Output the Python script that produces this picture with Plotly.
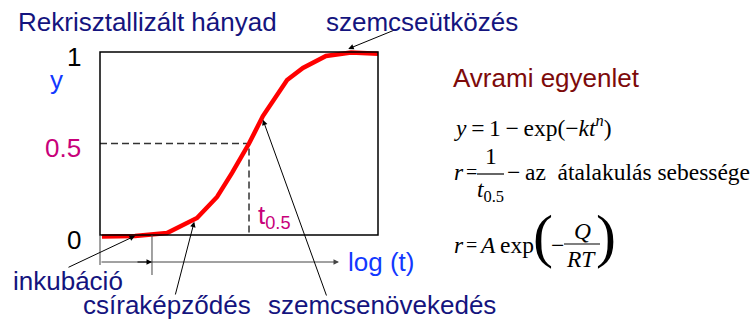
import plotly.graph_objects as go

# Recrystallized fraction y as a function of log(t) (arbitrary log-time units)
log_t = [0.07, 1.26, 2.41, 3.49, 4.21, 4.75, 5.36, 5.86, 6.73, 7.30, 8.13, 9.03, 10.0]
y_frac = [-0.008, -0.005, 0.011, 0.093, 0.208, 0.339, 0.50, 0.65, 0.847, 0.913, 0.978, 0.997, 0.99]

y_tick_vals = [0, 0.5, 1]
y_tick_text = ["0", "0.5", "1"]
y_tick_colors = ["black", "#c8007a", "black"]

t_half_idx = 6          # point where y = 0.5
growth_idx = 7          # point labelled as grain growth
impinge_idx = 11        # point labelled as grain impingement
incubation_end = 1.87   # end of the incubation period on the log(t) axis
x_max = 10.0

W, H = 756, 322
BOX_L, BOX_R, BOX_B, BOX_T = 100, 378, 235, 52   # frame of the diagram in pixels

sx = (BOX_R - BOX_L) / x_max
sy = (BOX_B - BOX_T) / 1.0
x_range = [-BOX_L / sx, (W - BOX_L) / sx]
y_range = [-(H - BOX_B) / sy, BOX_B / sy]


def dx(px):
    return (px - BOX_L) / sx


def dy(py):
    return (BOX_B - py) / sy


NAVY = "#14147e"
BLUE = "#1238ff"
MAGENTA = "#c8007a"
DARKRED = "#7d0a0a"
SANS = "Liberation Sans, Arial, sans-serif"
SERIF = "Liberation Serif, Times New Roman, serif"
TS = "\u2009"   # thin space for the equations
NB = "\u00a0"   # non-collapsing space
FS = 23.5       # equation font size

fig = go.Figure()

# half-time guide lines
th, yh = log_t[t_half_idx], y_frac[t_half_idx]
fig.add_trace(go.Scatter(x=[0, th, th], y=[yh, yh, 0], mode="lines",
                         line=dict(color="#333333", width=1.5, dash="7px,4px"),
                         hoverinfo="skip"))

# frame
fig.add_shape(type="rect", x0=0, x1=x_max, y0=0, y1=1,
              line=dict(color="black", width=1.5), layer="above")

# incubation markers under the frame
fig.add_shape(type="line", x0=0, x1=0, y0=0, y1=dy(265), line=dict(color="#444", width=1))
fig.add_shape(type="line", x0=incubation_end, x1=incubation_end, y0=0, y1=dy(275),
              line=dict(color="#444", width=1))

# recrystallization curve
fig.add_trace(go.Scatter(x=log_t, y=y_frac, mode="lines",
                         line=dict(color="#ff0000", width=4.5), hoverinfo="skip",
                         cliponaxis=False))

ann = []


def arrow(x, y, ax, ay, color="black", width=1):
    ann.append(dict(x=x, y=y, ax=ax, ay=ay, xref="x", yref="y", axref="x", ayref="y",
                    text="", showarrow=True, arrowhead=2, arrowsize=1.1,
                    arrowwidth=width, arrowcolor=color, standoff=0, startstandoff=0))


def label(text, px, py, color, size=26, font=SANS, xanchor="left", yanchor="middle"):
    ann.append(dict(x=px / W, y=1 - py / H, xref="paper", yref="paper", text=text,
                    showarrow=False, xanchor=xanchor, yanchor=yanchor,
                    font=dict(family=font, size=size, color=color)))


# log(t) axis arrow and incubation arrow
yax = dy(262)
arrow(dx(339), yax, 0, yax, color="#444")
arrow(incubation_end, yax, dx(136), yax)

# pointers to the stages of the curve
arrow(dx(135), y_frac[1], dx(67), dy(268))
arrow(log_t[3] - 0.1, y_frac[3] - 0.02, dx(175), dy(296))
arrow(log_t[growth_idx], y_frac[growth_idx] - 0.02, dx(327), dy(297))
arrow(log_t[impinge_idx] - 0.1, y_frac[impinge_idx] + 0.02, dx(397), dy(29))

# y tick labels
for v, t, c in zip(y_tick_vals, y_tick_text, y_tick_colors):
    label(t, 83, BOX_B - v * sy + 5, c, xanchor="right")

label("y", 56, 80, BLUE, xanchor="center")
label("Rekrisztallizált hányad", 16, 22, NAVY)
label("szemcseütközés", 324, 22, NAVY)
label("t<sub>0.5</sub>", 256, 216, MAGENTA)
label("log (t)", 346, 262, BLUE)
label("inkubáció", 11, 281, NAVY)
label("csíraképződés", 81, H, NAVY, yanchor="bottom")
label("szemcsenövekedés", 266, H, NAVY, yanchor="bottom")
label("Avrami egyenlet", 451, 78, DARKRED)

# Avrami equation block
label(f"<i>y</i>{TS}={TS}1{TS}−{TS}exp(−<i>kt<sup>n</sup></i>)", 452, 126, "black",
      size=FS, font=SERIF)

label("<i>r</i>", 452, 172, "black", size=FS, font=SERIF)
label("=", 471, 172, "black", size=20, font=SERIF, xanchor="center")
label("1", 491, 156, "black", size=FS, font=SERIF, xanchor="center")
label("<i>t</i><sub>0.5</sub>", 491, 191, "black", size=FS, font=SERIF, xanchor="center")
label(f"−{TS}az{NB} átalakulás sebessége", 505, 172, "black", size=FS, font=SERIF)

label("<i>r</i>", 452, 245, "black", size=FS, font=SERIF)
label("=", 471, 245, "black", size=20, font=SERIF, xanchor="center")
label(f"<i>A</i>{TS}exp", 477, 245, "black", size=FS, font=SERIF)
label("(", 543, 236, "black", size=60, font=SERIF, xanchor="center")
label("−", 557, 245, "black", size=FS, font=SERIF, xanchor="center")
label("<i>Q</i>", 582, 231, "black", size=FS, font=SERIF, xanchor="center")
label("<i>RT</i>", 581, 259, "black", size=FS, font=SERIF, xanchor="center")
label(")", 606, 236, "black", size=60, font=SERIF, xanchor="center")

fig.add_shape(type="line", xref="paper", yref="paper", x0=477 / W, x1=504 / W,
              y0=1 - 174 / H, y1=1 - 174 / H, line=dict(color="black", width=1.2))
fig.add_shape(type="line", xref="paper", yref="paper", x0=564 / W, x1=600 / W,
              y0=1 - 244 / H, y1=1 - 244 / H, line=dict(color="black", width=1.2))

fig.update_layout(
    width=W, height=H, margin=dict(l=0, r=0, t=0, b=0),
    paper_bgcolor="white", plot_bgcolor="white", showlegend=False,
    xaxis=dict(range=x_range, visible=False, fixedrange=True),
    yaxis=dict(range=y_range, visible=False, fixedrange=True),
    annotations=ann,
)

fig.write_html("out.html")
